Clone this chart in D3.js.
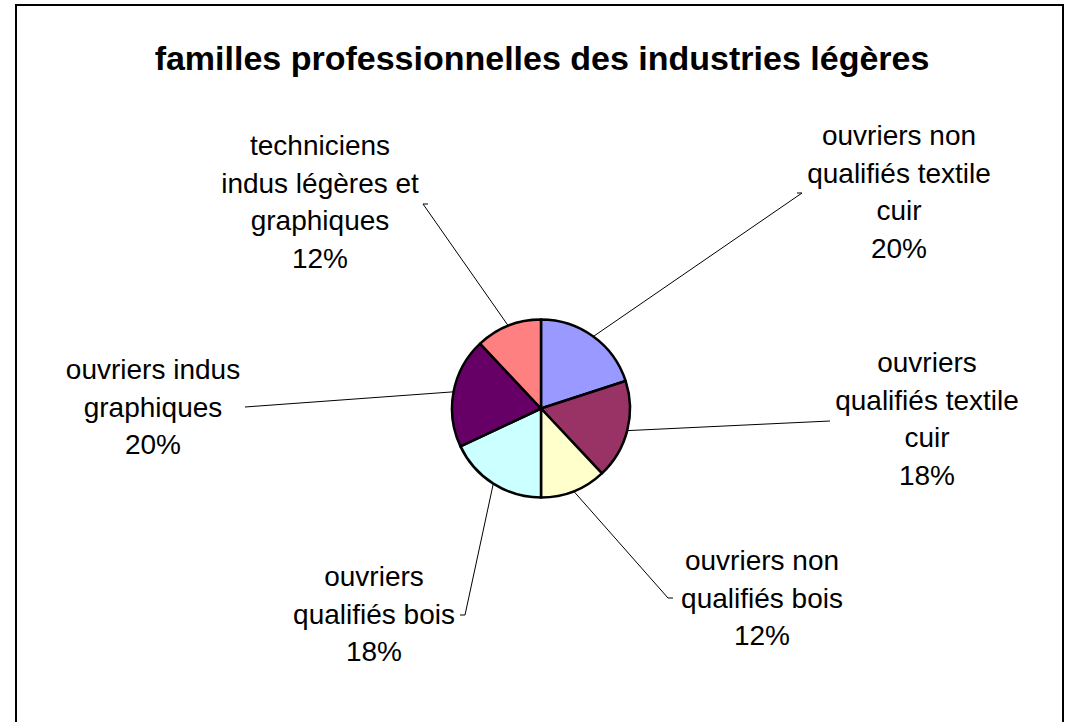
<!DOCTYPE html>
<html lang="fr">
<head>
<meta charset="UTF-8" />
<title>familles professionnelles des industries légères</title>
<script src="https://d3js.org/d3.v7.min.js"></script>
<style>
    body { margin: 0; background: #fff; }
    svg text { font-family: Arial, "Liberation Sans", sans-serif; fill: #000; }
</style>
</head>
<body>
<svg id="chart" width="1065" height="722"></svg>
<script>
    // données
    const categories = [
        "ouvriers non qualifiés textile cuir",
        "ouvriers qualifiés textile cuir",
        "ouvriers non qualifiés bois",
        "ouvriers qualifiés bois",
        "ouvriers indus graphiques",
        "techniciens indus légères et graphiques"
    ];
    const values = [20, 18, 12, 18, 20, 12];
    const colors = ["#9999FF", "#993366", "#FFFFCC", "#CCFFFF", "#660066", "#FF8080"];
    // étiquettes découpées en lignes comme dans l'original
    const labelLines = [
        ["ouvriers non", "qualifiés textile", "cuir"],
        ["ouvriers", "qualifiés textile", "cuir"],
        ["ouvriers non", "qualifiés bois"],
        ["ouvriers", "qualifiés bois"],
        ["ouvriers indus", "graphiques"],
        ["techniciens", "indus légères et", "graphiques"]
    ];

    // mise en page des étiquettes : centre du bloc (x, y première ligne) et bout du trait
    const labelLayout = [
        { x: 899, y: 145, lx: 802, ly: 193, hook: -5 },
        { x: 927, y: 372, lx: 830, ly: 421, hook: 0 },
        { x: 762, y: 570, lx: 668, ly: 598, hook: 5 },
        { x: 374, y: 586, lx: 465, ly: 615, hook: -5 },
        { x: 153, y: 379, lx: 245, ly: 407, hook: 0 },
        { x: 320, y: 155, lx: 423, ly: 204, hook: 5 }
    ];

    const svg = d3.select("#chart");
    const cx = 541, cy = 408.5, radius = 89;
    const lineH = 37.5;

    // cadre
    svg.append("rect")
        .attr("x", 16).attr("y", 5)
        .attr("width", 1047).attr("height", 730)
        .attr("fill", "none")
        .attr("stroke", "#000")
        .attr("stroke-width", 2);

    // titre
    svg.append("text")
        .attr("x", 542)
        .attr("y", 70)
        .attr("text-anchor", "middle")
        .style("font-size", "34px")
        .style("font-weight", "bold")
        .text("familles professionnelles des industries légères");

    const data = categories.map((c, i) => ({ name: c, value: values[i], i }));

    const pie = d3.pie().sort(null).value(d => d.value);
    const arc = d3.arc().innerRadius(0).outerRadius(radius);
    const edgeArc = d3.arc().innerRadius(radius).outerRadius(radius);

    const arcs = pie(data);
    const g = svg.append("g").attr("transform", `translate(${cx},${cy})`);

    // traits de rappel
    arcs.forEach((a, i) => {
        const L = labelLayout[i];
        const [ex, ey] = edgeArc.centroid(a);
        const pts = [[ex + cx, ey + cy], [L.lx, L.ly]];
        if (L.hook) pts.push([L.lx + L.hook, L.ly]);
        svg.append("path")
            .attr("d", d3.line()(pts))
            .attr("fill", "none")
            .attr("stroke", "#000")
            .attr("stroke-width", 1);
    });

    // secteurs
    g.selectAll("path.slice")
        .data(arcs)
        .enter()
        .append("path")
        .attr("class", "slice")
        .attr("d", arc)
        .attr("fill", d => colors[d.data.i])
        .attr("stroke", "#000")
        .attr("stroke-width", 2.5)
        .attr("stroke-linejoin", "round");

    // étiquettes
    const total = d3.sum(values);
    arcs.forEach((a, i) => {
        const L = labelLayout[i];
        const lines = labelLines[i].concat([Math.round(a.data.value / total * 100) + "%"]);
        const t = svg.append("text")
            .attr("text-anchor", "middle")
            .style("font-size", "28px");
        lines.forEach((s, k) => {
            t.append("tspan")
                .attr("x", L.x)
                .attr("y", L.y + k * lineH)
                .text(s);
        });
    });
</script>
</body>
</html>
